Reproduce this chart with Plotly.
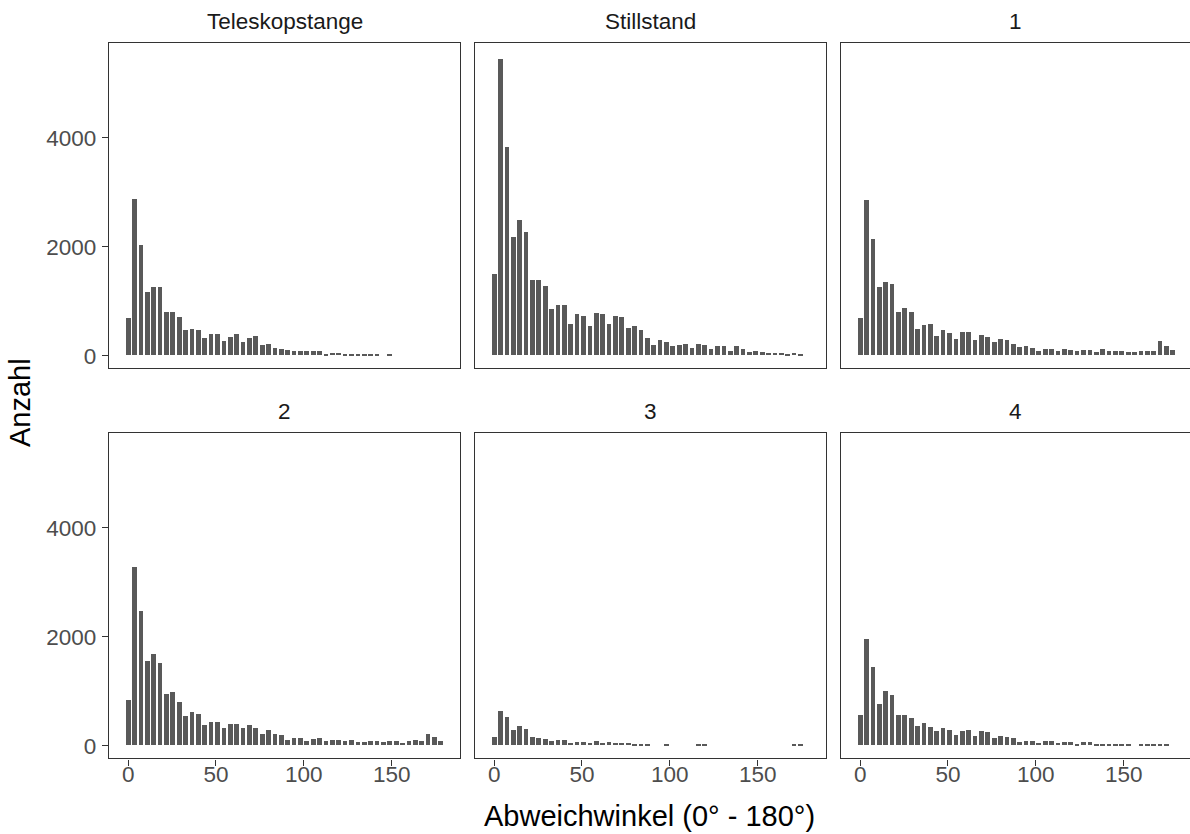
import plotly.graph_objects as go

# ---------------- data (histogram counts, 50 bins, centers 0 .. 178) ----------------
N_BINS = 50
X_MAX = 178.0
BIN_WIDTH = X_MAX / (N_BINS - 1)
bin_centers = [i * BIN_WIDTH for i in range(N_BINS)]

panel_labels = ["Teleskopstange", "Stillstand", "1", "2", "3", "4"]

counts_teleskopstange = [680, 2880, 2020, 1170, 1250, 1260, 790, 800, 700, 460,
                         490, 470, 320, 400, 400, 270, 340, 390, 240, 320,
                         360, 190, 215, 145, 125, 95, 90, 85, 85, 85,
                         85, 30, 50, 45, 35, 30, 25, 18, 25, 25,
                         0, 18, 0, 0, 0, 0, 0, 0, 0, 0]
counts_stillstand = [1490, 5450, 3830, 2170, 2490, 2270, 1380, 1380, 1280, 850,
                     930, 930, 570, 760, 720, 540, 780, 760, 570, 720,
                     700, 500, 550, 460, 330, 190, 280, 250, 170, 190,
                     215, 145, 220, 195, 120, 180, 165, 90, 165, 120,
                     55, 90, 55, 50, 45, 38, 15, 38, 12, 0]
counts_1 = [680, 2850, 2140, 1260, 1350, 1310, 790, 880, 790, 480,
            560, 580, 360, 460, 410, 310, 440, 440, 290, 380,
            340, 240, 310, 280, 210, 150, 180, 130, 80, 115,
            125, 85, 110, 95, 90, 95, 95, 55, 110, 80,
            75, 80, 55, 55, 75, 75, 85, 260, 170, 95]
counts_2 = [830, 3280, 2470, 1550, 1680, 1510, 950, 980, 800, 550,
            620, 580, 370, 440, 440, 320, 400, 400, 320, 370,
            320, 215, 280, 215, 200, 100, 145, 135, 90, 120,
            135, 75, 100, 100, 90, 105, 65, 60, 90, 90,
            65, 90, 90, 45, 90, 100, 90, 220, 150, 75]
counts_3 = [150, 640, 515, 285, 350, 295, 162, 145, 112, 80,
            94, 94, 52, 60, 60, 38, 74, 38, 60, 44,
            38, 38, 32, 32, 32, 0, 0, 16, 0, 0,
            0, 0, 16, 16, 0, 0, 0, 0, 0, 0,
            0, 0, 0, 0, 0, 0, 0, 16, 16, 0]
counts_4 = [560, 1950, 1450, 770, 1000, 920, 560, 560, 510, 360,
            410, 340, 270, 320, 280, 200, 270, 280, 180, 275,
            250, 135, 170, 150, 130, 70, 75, 75, 45, 80,
            80, 50, 65, 65, 35, 65, 60, 30, 30, 30,
            20, 20, 20, 0, 20, 30, 18, 30, 30, 0]

all_counts = [counts_teleskopstange, counts_stillstand, counts_1,
              counts_2, counts_3, counts_4]

x_tick_vals = [0, 50, 100, 150]
y_tick_vals = [0, 2000, 4000]

# ---------------- layout geometry (pixels) ----------------
W, H = 1190, 834
col_px = [(109, 460), (475, 826), (841, 1190)]
row_px = [(43.3, 368.3), (433.3, 758.3)]
X_LO, X_HI = -10.9, 188.9
PX_PER_UNIT = (col_px[0][1] - col_px[0][0]) / (X_HI - X_LO)
Y_RANGE = [-230, 5739]

BAR_COLOR = "#595959"
AXIS_COLOR = "#333333"
TICK_TEXT = "#4D4D4D"
FONT = "Liberation Sans, Arial, sans-serif"
TICK_SIZE = 22.5
TITLE_SIZE = 29

fig = go.Figure()
layout = dict(
    width=W, height=H,
    margin=dict(l=0, r=0, t=0, b=0),
    paper_bgcolor="white", plot_bgcolor="white",
    showlegend=False, bargap=0,
    font=dict(family=FONT, color=TICK_TEXT),
    annotations=[],
)

for k, (label, counts) in enumerate(zip(panel_labels, all_counts)):
    r, c = divmod(k, 3)
    n = k + 1
    xname = "x" if n == 1 else f"x{n}"
    yname = "y" if n == 1 else f"y{n}"
    xs = [bc for bc, v in zip(bin_centers, counts) if v > 0]
    ys = [v for v in counts if v > 0]
    fig.add_trace(go.Bar(
        x=xs, y=ys, width=BIN_WIDTH * 0.74, xaxis=xname, yaxis=yname,
        marker=dict(color=BAR_COLOR, line=dict(width=0)),
        hoverinfo="skip",
    ))
    x0, x1 = col_px[c]
    y0, y1 = row_px[r]
    x_hi = X_LO + (x1 - x0) / PX_PER_UNIT
    bottom = (r == 1)
    left = (c == 0)
    layout["xaxis" + ("" if n == 1 else str(n))] = dict(
        domain=[x0 / W, x1 / W], range=[X_LO, x_hi], anchor=yname,
        showgrid=False, zeroline=False, showline=True, mirror=True,
        linecolor=AXIS_COLOR, linewidth=1.4,
        tickvals=x_tick_vals if bottom else [],
        ticks="outside" if bottom else "", ticklen=6, tickwidth=1.4,
        tickcolor=AXIS_COLOR, showticklabels=bottom,
        ticklabelstandoff=-11,
        tickfont=dict(size=TICK_SIZE, color=TICK_TEXT, family=FONT),
        automargin=False, fixedrange=True,
    )
    layout["yaxis" + ("" if n == 1 else str(n))] = dict(
        domain=[1 - y1 / H, 1 - y0 / H], range=Y_RANGE, anchor=xname,
        showgrid=False, zeroline=False, showline=True, mirror=(c != 2),
        linecolor=AXIS_COLOR, linewidth=1.4,
        tickvals=y_tick_vals if left else [],
        ticks="outside" if left else "", ticklen=6, tickwidth=1.4,
        tickcolor=AXIS_COLOR, showticklabels=left,
        ticklabelstandoff=1,
        tickfont=dict(size=TICK_SIZE, color=TICK_TEXT, family=FONT),
        automargin=False, fixedrange=True,
    )
    layout["annotations"].append(dict(
        text=label, xref="paper", yref="paper",
        x=(x0 + min(x1, x0 + 351)) / 2 / W, y=1 - (y0 - 22) / H,
        xanchor="center", yanchor="middle", showarrow=False,
        font=dict(size=TICK_SIZE, color="#1A1A1A", family=FONT),
    ))

layout["annotations"].append(dict(
    text="Abweichwinkel (0° - 180°)", xref="paper", yref="paper",
    x=650 / W, y=1 - 816 / H, xanchor="center", yanchor="middle",
    showarrow=False, font=dict(size=TITLE_SIZE, color="black", family=FONT),
))
layout["annotations"].append(dict(
    text="Anzahl", xref="paper", yref="paper",
    x=20 / W, y=1 - 403 / H, xanchor="center", yanchor="middle",
    textangle=-90, showarrow=False,
    font=dict(size=TITLE_SIZE, color="black", family=FONT),
))

fig.update_layout(**layout)
fig.write_html("out.html", config={"displayModeBar": False})
